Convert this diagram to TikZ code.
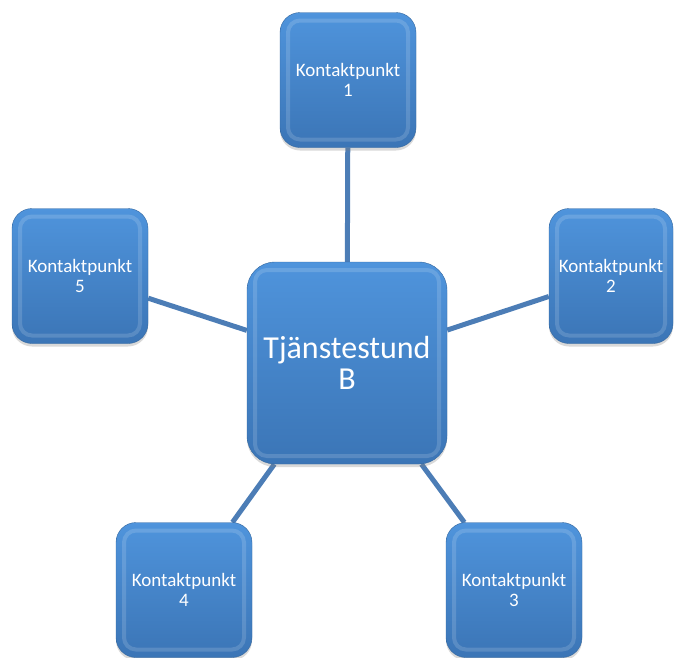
\documentclass[tikz,border=0pt]{standalone}
\usepackage{fontspec}
\setmainfont{Carlito}
\usepackage{tikz}
\usetikzlibrary{shadows, backgrounds}
\definecolor{cTop}{HTML}{4F94DC}
\definecolor{cBot}{HTML}{3B75B6}
\definecolor{cRim}{HTML}{35689F}
\definecolor{cLine}{HTML}{4C7DB6}
\tikzstyle{bevel} = [path picture={\draw[white, opacity=0.15, line width=4pt, rounded corners=12pt]
  ([shift={(8pt,-8pt)}]path picture bounding box.north west) rectangle
  ([shift={(-8pt,8pt)}]path picture bounding box.south east);}]
\tikzstyle{hub}   = [rectangle, rounded corners=28pt, draw=cRim, top color=cTop, bottom color=cBot, bevel, minimum width=200pt, minimum height=202pt, align=center, text=white, font=\fontsize{32}{31}\selectfont, drop shadow={opacity=0.3, shadow xshift=0pt, shadow yshift=-3pt}]
\tikzstyle{spoke} = [rectangle, rounded corners=20pt, draw=cRim, top color=cTop, bottom color=cBot, bevel, minimum width=136pt, minimum height=135pt, align=center, text=white, inner sep=1pt, font=\fontsize{19}{19.5}\selectfont, drop shadow={opacity=0.3, shadow xshift=0pt, shadow yshift=-3pt}]
\tikzstyle{link}  = [line width=5pt, draw=cLine]

\begin{document}
\begin{tikzpicture}[x=1pt, y=-1pt]
\useasboundingbox (0,0) rectangle (674,657);
\node (hub) [hub] at (347,363) {Tjänstestund\\B};
\node (p1) [spoke] at (348,80) {Kontaktpunkt\\1};
\node (p2) [spoke, minimum width=124pt] at (611,276) {Kontaktpunkt\\2};
\node (p3) [spoke] at (514,590) {Kontaktpunkt\\3};
\node (p4) [spoke] at (184,590) {Kontaktpunkt\\4};
\node (p5) [spoke] at (80,276) {Kontaktpunkt\\5};

\begin{scope}[on background layer]
\draw [link] (hub) -- (p1);
\draw [link] (hub) -- (p2);
\draw [link] (hub) -- (p3);
\draw [link] (hub) -- (p4);
\draw [link] (hub) -- (p5);
\end{scope}
\end{tikzpicture}
\end{document}
